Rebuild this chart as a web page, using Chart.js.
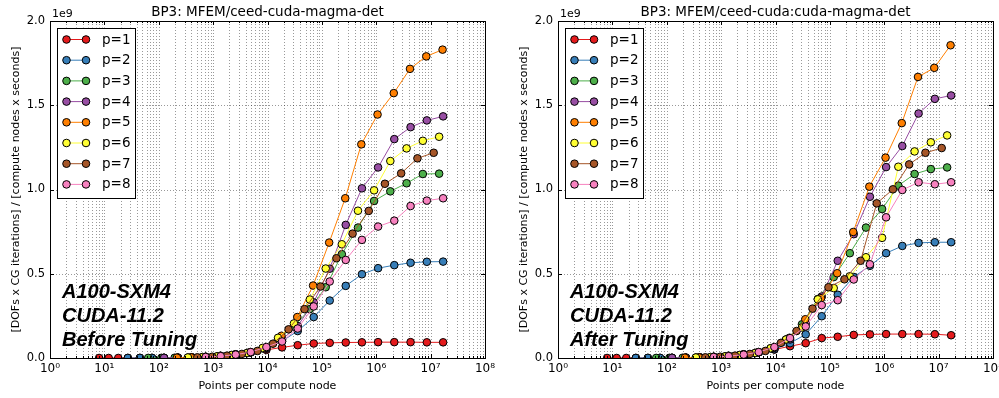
<!DOCTYPE html>
<html>
<head>
<meta charset="utf-8">
<script src="https://cdn.jsdelivr.net/npm/chart.js@4.4.0/dist/chart.umd.min.js"></script>
<style>
  html, body { margin: 0; padding: 0; background: #fff; overflow: hidden; }
  body { width: 999px; height: 398px; position: relative; }
  canvas { position: absolute; top: 0; }
  #before { left: 0; }
  #after { left: 500px; }
</style>
</head>
<body>
<canvas id="before" width="500" height="398"></canvas>
<canvas id="after" width="520" height="398"></canvas>
<script>
var labels = ['p=1', 'p=2', 'p=3', 'p=4', 'p=5', 'p=6', 'p=7', 'p=8'];
var colors = ['#e41a1c', '#377eb8', '#4daf4a', '#984ea3', '#ff7f00', '#ffff33', '#a65628', '#f781bf'];
var xTicks = [1, 10, 100, 1e3, 1e4, 1e5, 1e6, 1e7, 1e8];
var yTicks = [0, 0.5, 1.0, 1.5, 2.0];

// points per compute node, one list per order p
var pts1 = [8, 12, 18, 27, 45, 75, 125, 225, 405, 729, 1377, 2601, 4913, 9537, 18513, 35937, 70785, 139425, 274625, 545025, 1081665, 2146689, 4276737, 8520321, 16974593];
var pts2 = [27, 45, 75, 125, 225, 405, 729, 1377, 2601, 4913, 9537, 18513, 35937, 70785, 139425, 274625, 545025, 1081665, 2146689, 4276737, 8520321, 16974593];
var pts3 = [64, 112, 196, 343, 637, 1183, 2197, 4225, 8125, 15625, 30625, 60025, 117649, 232897, 461041, 912673, 1815937, 3613153, 7189057, 14340865];
var pts4 = [125, 225, 405, 729, 1377, 2601, 4913, 9537, 18513, 35937, 70785, 139425, 274625, 545025, 1081665, 2146689, 4276737, 8520321, 16974593];
var pts5 = [216, 396, 726, 1331, 2541, 4851, 9261, 18081, 35301, 68921, 136161, 269001, 531441, 1056321, 2099601, 4173281, 8320641, 16589601];
var pts6 = [343, 637, 1183, 2197, 4225, 8125, 15625, 30625, 60025, 117649, 232897, 461041, 912673, 1815937, 3613153, 7189057, 14340865];
var pts7 = [512, 960, 1800, 3375, 6525, 12615, 24389, 47937, 94221, 185193, 367137, 727833, 1442897, 2873025, 5720625, 11390625];
var pts8 = [729, 1377, 2601, 4913, 9537, 18513, 35937, 70785, 139425, 274625, 545025, 1081665, 2146689, 4276737, 8520321, 16974593];

// throughput in units of 1e9, before tuning
var before1 = [0.0001, 0.0001, 0.0002, 0.0003, 0.0004, 0.0007, 0.0011, 0.002, 0.0037, 0.0065, 0.012, 0.021, 0.033, 0.048, 0.063, 0.076, 0.086, 0.09, 0.092, 0.093, 0.094, 0.094, 0.094, 0.093, 0.093];
var before2 = [0.0003, 0.0005, 0.0008, 0.0013, 0.0023, 0.004, 0.007, 0.013, 0.022, 0.034, 0.055, 0.1, 0.16, 0.243, 0.341, 0.428, 0.497, 0.533, 0.551, 0.565, 0.571, 0.572];
var before3 = [0.0005, 0.0009, 0.0016, 0.0028, 0.005, 0.009, 0.016, 0.029, 0.057, 0.11, 0.187, 0.29, 0.42, 0.616, 0.774, 0.932, 0.989, 1.037, 1.092, 1.094];
var before4 = [0.001, 0.002, 0.0035, 0.0065, 0.012, 0.021, 0.034, 0.06, 0.11, 0.19, 0.33, 0.53, 0.79, 1.007, 1.131, 1.299, 1.37, 1.41, 1.434];
var before5 = [0.002, 0.0035, 0.0065, 0.012, 0.021, 0.035, 0.062, 0.132, 0.243, 0.43, 0.685, 0.948, 1.268, 1.445, 1.572, 1.716, 1.79, 1.83];
var before6 = [0.003, 0.0055, 0.01, 0.018, 0.03, 0.06, 0.12, 0.205, 0.347, 0.531, 0.675, 0.874, 0.995, 1.169, 1.244, 1.289, 1.313];
var before7 = [0.004, 0.0075, 0.014, 0.024, 0.042, 0.085, 0.17, 0.29, 0.424, 0.592, 0.738, 0.873, 1.034, 1.096, 1.185, 1.218];
var before8 = [0.006, 0.011, 0.02, 0.035, 0.065, 0.098, 0.175, 0.306, 0.454, 0.582, 0.701, 0.78, 0.815, 0.902, 0.934, 0.948];

// after tuning
var after1 = [0.0001, 0.0001, 0.0002, 0.0003, 0.0004, 0.0007, 0.0011, 0.002, 0.0037, 0.0065, 0.012, 0.021, 0.034, 0.05, 0.07, 0.088, 0.118, 0.126, 0.137, 0.14, 0.142, 0.142, 0.142, 0.141, 0.135];
var after2 = [0.0003, 0.0005, 0.0008, 0.0013, 0.0023, 0.004, 0.007, 0.013, 0.022, 0.034, 0.052, 0.088, 0.14, 0.248, 0.375, 0.481, 0.547, 0.622, 0.665, 0.683, 0.687, 0.687];
var after3 = [0.0005, 0.0009, 0.0016, 0.0028, 0.005, 0.009, 0.016, 0.029, 0.057, 0.11, 0.2, 0.35, 0.48, 0.622, 0.774, 0.884, 1.023, 1.092, 1.121, 1.131];
var after4 = [0.001, 0.002, 0.0035, 0.0065, 0.012, 0.021, 0.034, 0.06, 0.11, 0.205, 0.365, 0.577, 0.735, 0.957, 1.133, 1.258, 1.451, 1.538, 1.558];
var after5 = [0.002, 0.0035, 0.0065, 0.012, 0.021, 0.035, 0.062, 0.12, 0.23, 0.355, 0.503, 0.748, 1.017, 1.189, 1.394, 1.668, 1.722, 1.856];
var after6 = [0.003, 0.0055, 0.01, 0.018, 0.03, 0.058, 0.11, 0.181, 0.348, 0.415, 0.485, 0.598, 0.713, 1.135, 1.226, 1.28, 1.321];
var after7 = [0.004, 0.0075, 0.014, 0.024, 0.042, 0.09, 0.16, 0.293, 0.42, 0.467, 0.577, 0.918, 1.001, 1.149, 1.218, 1.246];
var after8 = [0.006, 0.011, 0.02, 0.035, 0.065, 0.118, 0.187, 0.314, 0.343, 0.466, 0.556, 0.835, 0.997, 1.043, 1.031, 1.043];

var xs = [pts1, pts2, pts3, pts4, pts5, pts6, pts7, pts8];
var beforeVals = [before1, before2, before3, before4, before5, before6, before7, before8];
var afterVals = [after1, after2, after3, after4, after5, after6, after7, after8];

var FONT = "'DejaVu Sans', sans-serif";
var sup = ['\u2070', '\u00b9', '\u00b2', '\u00b3', '\u2074', '\u2075', '\u2076', '\u2077', '\u2078'];

function makeSeries(vals) {
  return labels.map(function(lab, i) {
    return {
      label: lab,
      data: xs[i].map(function(x, j) { return {x: x, y: vals[i][j]}; }),
      borderColor: colors[i],
      backgroundColor: colors[i],
      pointBackgroundColor: colors[i],
      pointBorderColor: '#000',
      pointBorderWidth: 1,
      pointRadius: 3.8,
      pointHoverRadius: 3.8,
      borderWidth: 1,
      showLine: true,
      clip: 0,
      order: labels.length - i
    };
  });
}

// grid, frame, inside ticks, title, legend and the note
var decor = {
  id: 'decor',
  beforeDatasetsDraw: function(chart) {
    var ctx = chart.ctx, a = chart.chartArea, xs_ = chart.scales.x, ys_ = chart.scales.y;
    ctx.save();
    ctx.strokeStyle = 'rgba(0,0,0,0.4)';
    ctx.lineWidth = 1;
    ctx.setLineDash([1, 2]);
    for (var k = 0; k < 8; k++) {
      for (var m = 1; m < 10; m++) {
        var v = m * Math.pow(10, k);
        if (v <= 1) continue;
        var px = Math.round(xs_.getPixelForValue(v)) + 0.5;
        ctx.beginPath(); ctx.moveTo(px, a.top); ctx.lineTo(px, a.bottom); ctx.stroke();
      }
    }
    [0.5, 1.0, 1.5].forEach(function(v) {
      var py = Math.round(ys_.getPixelForValue(v)) + 0.5;
      ctx.beginPath(); ctx.moveTo(a.left, py); ctx.lineTo(a.right, py); ctx.stroke();
    });
    ctx.restore();
  },
  afterDatasetsDraw: function(chart) {
    var ctx = chart.ctx, a = chart.chartArea, xs_ = chart.scales.x, ys_ = chart.scales.y;
    ctx.save();
    ctx.strokeStyle = '#000';
    ctx.lineWidth = 1;
    ctx.setLineDash([]);
    ctx.beginPath();
    for (var k = 0; k <= 8; k++) {
      for (var m = 1; m < 10; m++) {
        var v = m * Math.pow(10, k);
        if (v > 1e8) break;
        var len = m === 1 ? 4 : 2;
        var px = Math.round(xs_.getPixelForValue(v)) + 0.5;
        ctx.moveTo(px, a.bottom); ctx.lineTo(px, a.bottom - len);
        ctx.moveTo(px, a.top); ctx.lineTo(px, a.top + len);
      }
    }
    yTicks.forEach(function(v) {
      var py = Math.round(ys_.getPixelForValue(v)) + 0.5;
      ctx.moveTo(a.left, py); ctx.lineTo(a.left + 4, py);
      ctx.moveTo(a.right, py); ctx.lineTo(a.right - 4, py);
    });
    ctx.stroke();
    ctx.strokeRect(Math.round(a.left) + 0.5, Math.round(a.top) + 0.5, Math.round(a.right - a.left), Math.round(a.bottom - a.top));
    ctx.restore();
  },
  afterDraw: function(chart, args, opts) {
    var ctx = chart.ctx, a = chart.chartArea;
    ctx.save();
    ctx.fillStyle = '#000';
    // title and multiplier
    ctx.font = '13.5px ' + FONT;
    ctx.textAlign = 'center';
    ctx.textBaseline = 'alphabetic';
    ctx.fillText(opts.title, (a.left + a.right) / 2, 16);
    ctx.font = '11px ' + FONT;
    ctx.textAlign = 'left';
    ctx.fillText('1e9', a.left + 2, a.top - 4);
    // note
    ctx.font = "italic bold 20px 'Liberation Sans', Arial, sans-serif";
    opts.note.forEach(function(line, i) {
      ctx.fillText(line, a.left + 12, 297.5 + i * 24.3);
    });
    // legend
    var bx = a.left + 7, by = a.top + 6.5, bw = 78, bh = 170;
    ctx.fillStyle = '#fff';
    ctx.fillRect(bx, by, bw, bh);
    ctx.strokeStyle = '#000';
    ctx.lineWidth = 1;
    ctx.strokeRect(Math.round(bx) + 0.5, Math.round(by) + 0.5, bw, bh);
    ctx.font = '13.5px ' + FONT;
    ctx.textBaseline = 'middle';
    labels.forEach(function(lab, i) {
      var ry = by + 12 + i * 20.7;
      var x1 = bx + 9.5, x2 = bx + 29;
      ctx.strokeStyle = colors[i];
      ctx.lineWidth = 1;
      ctx.beginPath(); ctx.moveTo(x1, ry); ctx.lineTo(x2, ry); ctx.stroke();
      [x1, x2].forEach(function(cx) {
        ctx.beginPath();
        ctx.arc(cx, ry, 3.8, 0, Math.PI * 2);
        ctx.fillStyle = colors[i];
        ctx.fill();
        ctx.strokeStyle = '#000';
        ctx.stroke();
      });
      ctx.fillStyle = '#000';
      ctx.fillText(lab, bx + 45, ry + 0.5);
    });
    ctx.restore();
  }
};

function makeChart(id, vals, title, note, padLeft, padRight) {
  return new Chart(document.getElementById(id), {
    type: 'scatter',
    data: { datasets: makeSeries(vals) },
    options: {
      responsive: false,
      animation: false,
      events: [],
      layout: { padding: { left: padLeft, right: padRight, top: 21, bottom: 0 } },
      plugins: {
        legend: { display: false },
        tooltip: { enabled: false },
        decor: { title: title, note: note }
      },
      scales: {
        x: {
          type: 'logarithmic',
          min: 1,
          max: 1e8,
          afterBuildTicks: function(s) { s.ticks = xTicks.map(function(v) { return {value: v}; }); },
          afterFit: function(s) { s.height = 40; },
          grid: { display: false, drawTicks: false },
          border: { display: false },
          ticks: {
            autoSkip: false,
            maxRotation: 0,
            padding: 4,
            color: '#000',
            font: { family: FONT, size: 12 },
            callback: function(v) { return '10' + sup[Math.round(Math.log10(v))]; }
          },
          title: {
            display: true,
            text: 'Points per compute node',
            color: '#000',
            font: { family: FONT, size: 11 },
            padding: { top: 0, bottom: 5 }
          }
        },
        y: {
          min: 0,
          max: 2,
          afterBuildTicks: function(s) { s.ticks = yTicks.map(function(v) { return {value: v}; }); },
          afterFit: function(s) { s.width = 40; },
          grid: { display: false, drawTicks: false },
          border: { display: false },
          ticks: {
            padding: 5,
            color: '#000',
            font: { family: FONT, size: 11.5 },
            callback: function(v) { return v.toFixed(1); }
          },
          title: {
            display: true,
            text: '[DOFs x CG iterations] / [compute nodes x seconds]',
            color: '#000',
            font: { family: FONT, size: 11 },
            padding: { top: 0, bottom: 0 }
          }
        }
      }
    },
    plugins: [decor]
  });
}

makeChart('before', beforeVals, 'BP3: MFEM/ceed-cuda-magma-det',
  ['A100-SXM4', 'CUDA-11.2', 'Before Tuning'], 10, 15);
makeChart('after', afterVals, 'BP3: MFEM/ceed-cuda:cuda-magma-det',
  ['A100-SXM4', 'CUDA-11.2', 'After Tuning'], 18, 27);
</script>
</body>
</html>
